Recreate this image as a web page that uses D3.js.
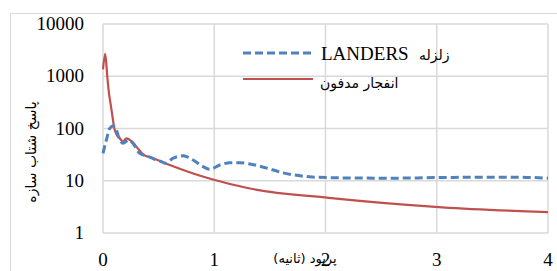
<!DOCTYPE html>
<html>
<head>
<meta charset="utf-8">
<script src="https://d3js.org/d3.v7.min.js"></script>
<style>
body{margin:0;background:#fff;}
svg{display:block;}
</style>
</head>
<body>
<div id="chart"></div>
<script>
// پریود (ثانیه) و طیف پاسخ شتاب
var periodQuake = [0,0.03,0.06,0.09,0.12,0.14,0.18,0.23,0.27,0.33,0.41,0.48,0.53,0.56,0.63,0.72,0.81,0.90,0.96,1.05,1.14,1.23,1.32,1.41,1.63,1.88,2.2,2.6,3.0,3.4,3.8,4.0];
var quakeVals   = [33.5,60,100,112,94,70,52,60,52,33.5,29,25,23,21.6,27,30,25,18.6,16.6,20,22,22,21,19,14,11.8,11.3,11.2,11.5,11.7,11.6,11.2];
var periodBlast = [0,0.02,0.04,0.055,0.07,0.085,0.10,0.12,0.15,0.18,0.21,0.26,0.30,0.36,0.45,0.6,0.81,0.98,1.32,2.03,3.05,4.0];
var blastVals   = [1350,2680,900,450,280,170,105,78,65,56,65,56,45,32,27,20,13.8,10.7,7.1,4.7,3.1,2.5];
var xTicks = [0,1,2,3,4];
var yTicks = [1,10,100,1000,10000];
var seriesNames = ["LANDERS", "انفجار مدفون"];

var W = 557, H = 271;
var plot = {left:103, right:548, top:24, bottom:233};

var svg = d3.select("#chart").append("svg").attr("width", W).attr("height", H);

// chart frame
svg.append("rect").attr("x",10.5).attr("y",13.5).attr("width",W).attr("height",H)
	.attr("fill","none").attr("stroke","#d9d9d9").attr("stroke-width",1);

var x = d3.scaleLinear().domain([0,4]).range([plot.left, plot.right]);
var y = d3.scaleLog().domain([1,10000]).range([plot.bottom, plot.top]);

// grid
svg.selectAll(".vgrid").data(xTicks).enter().append("line")
	.attr("x1",function(d){return x(d);}).attr("x2",function(d){return x(d);})
	.attr("y1",plot.top).attr("y2",plot.bottom)
	.attr("stroke","#d9d9d9").attr("stroke-width",1.5);
svg.selectAll(".hgrid").data(yTicks).enter().append("line")
	.attr("x1",plot.left).attr("x2",plot.right)
	.attr("y1",function(d){return y(d);}).attr("y2",function(d){return y(d);})
	.attr("stroke","#d9d9d9").attr("stroke-width",1.5);

// tick labels
svg.selectAll(".ytext").data(yTicks).enter().append("text")
	.attr("x",84).attr("y",function(d){return y(d)+6;})
	.attr("text-anchor","end")
	.attr("font-family","Liberation Serif, serif").attr("font-size","19px")
	.text(function(d){return d;});
svg.selectAll(".xtext").data(xTicks).enter().append("text")
	.attr("x",function(d){return x(d);}).attr("y",266)
	.attr("text-anchor","middle")
	.attr("font-family","Liberation Serif, serif").attr("font-size","19px")
	.text(function(d){return d;});

// axis titles
svg.append("text").attr("x",305).attr("y",263)
	.attr("text-anchor","middle").attr("font-family","DejaVu Sans, sans-serif").attr("font-size","13px")
	.text("پریود (ثانیه)");
svg.append("text").attr("transform","translate(36,152) rotate(-90)")
	.attr("text-anchor","middle").attr("font-family","DejaVu Sans, sans-serif").attr("font-size","14px")
	.text("پاسخ شتاب سازه");

// lines
var line = d3.line().curve(d3.curveMonotoneX)
	.x(function(d){return x(d[0]);}).y(function(d){return y(d[1]);});

svg.append("path").datum(d3.zip(periodBlast, blastVals))
	.attr("d",line).attr("fill","none").attr("stroke","#c0504d").attr("stroke-width",2.2);
svg.append("path").datum(d3.zip(periodQuake, quakeVals))
	.attr("d",line).attr("fill","none").attr("stroke","#4f81bd").attr("stroke-width",3)
	.attr("stroke-dasharray","8,4");

// legend
svg.append("line").attr("x1",243).attr("x2",313).attr("y1",53).attr("y2",53)
	.attr("stroke","#4f81bd").attr("stroke-width",3).attr("stroke-dasharray","8,4");
svg.append("line").attr("x1",243).attr("x2",313).attr("y1",79).attr("y2",79)
	.attr("stroke","#c0504d").attr("stroke-width",2.2);
svg.append("text").attr("x",321).attr("y",60)
	.attr("font-family","Liberation Serif, serif").attr("font-size","19px")
	.text(seriesNames[0]);
svg.append("text").attr("x",419).attr("y",60)
	.attr("font-family","DejaVu Sans, sans-serif").attr("font-size","14px")
	.text("زلزله");
svg.append("text").attr("x",320).attr("y",88)
	.attr("font-family","DejaVu Sans, sans-serif").attr("font-size","14px")
	.text(seriesNames[1]);
</script>
</body>
</html>
